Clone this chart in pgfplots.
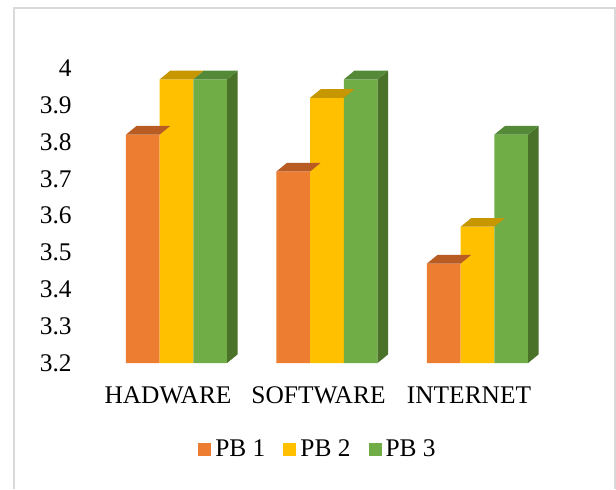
\documentclass[border=0pt,12pt]{standalone}
\usepackage{fontspec}
\setmainfont{Liberation Serif}
\usepackage{pgfplots}
\pgfplotsset{compat=1.18}
\definecolor{pbA}{HTML}{ED7D31}
\definecolor{pbB}{HTML}{FFC000}
\definecolor{pbC}{HTML}{70AD47}
\definecolor{pbAtop}{HTML}{B85C24}
\definecolor{pbBtop}{HTML}{C69700}
\definecolor{pbCtop}{HTML}{548A37}
\definecolor{pbCside}{HTML}{4A7229}
\definecolor{frame}{HTML}{D9D9D9}
% 3D top faces (offset per series hard-coded), depth dx=5.3pt, dy=4.35pt
\pgfdeclareplotmark{topA}{%
  \pgfsetfillcolor{pbAtop}%
  \pgfpathmoveto{\pgfqpoint{-21.025pt}{0pt}}%
  \pgfpathlineto{\pgfqpoint{-4.175pt}{0pt}}%
  \pgfpathlineto{\pgfqpoint{1.125pt}{4.35pt}}%
  \pgfpathlineto{\pgfqpoint{-15.725pt}{4.35pt}}%
  \pgfpathclose\pgfusepath{fill}}
\pgfdeclareplotmark{topB}{%
  \pgfsetfillcolor{pbBtop}%
  \pgfpathmoveto{\pgfqpoint{-4.175pt}{0pt}}%
  \pgfpathlineto{\pgfqpoint{12.675pt}{0pt}}%
  \pgfpathlineto{\pgfqpoint{17.975pt}{4.35pt}}%
  \pgfpathlineto{\pgfqpoint{1.125pt}{4.35pt}}%
  \pgfpathclose\pgfusepath{fill}}
\pgfdeclareplotmark{topC}{%
  \pgfmathsetmacro{\hh}{(\rawy-3.2)*184.1875}%
  \pgfsetfillcolor{pbCside}%
  \pgfpathmoveto{\pgfqpoint{29.525pt}{0pt}}%
  \pgfpathlineto{\pgfqpoint{34.825pt}{4.35pt}}%
  \pgfpathlineto{\pgfpoint{34.825pt}{4.35pt-\hh pt}}%
  \pgfpathlineto{\pgfpoint{29.525pt}{-\hh pt}}%
  \pgfpathclose\pgfusepath{fill}%
  \pgfsetfillcolor{pbCtop}%
  \pgfpathmoveto{\pgfqpoint{12.675pt}{0pt}}%
  \pgfpathlineto{\pgfqpoint{29.525pt}{0pt}}%
  \pgfpathlineto{\pgfqpoint{34.825pt}{4.35pt}}%
  \pgfpathlineto{\pgfqpoint{17.975pt}{4.35pt}}%
  \pgfpathclose\pgfusepath{fill}}
\pgfplotstableread{
x  v
0  3.82
1  3.72
2  3.47
}\pbone
\pgfplotstableread{
x  v
0  3.97
1  3.92
2  3.57
}\pbtwo
\pgfplotstableread{
x  v
0  3.97
1  3.97
2  3.82
}\pbthree
\begin{document}
\fontsize{12.7}{15}\selectfont
\begin{tikzpicture}
\useasboundingbox (0,0) rectangle (308pt,244.5pt);
\draw[frame, line width=1pt] (6.75pt,0pt) -- (6.75pt,240.5pt) -- (307.35pt,240.5pt) -- (307.35pt,0pt);
\begin{axis}[
  at={(46.375pt,63pt)}, anchor=south west,
  scale only axis, width=225.75pt, height=147.35pt,
  xmin=-0.5, xmax=2.5, ymin=3.2, ymax=4,
  xtick={0,1,2}, xticklabels={HADWARE,SOFTWARE,INTERNET},
  ytick={3.2,3.3,3.4,3.5,3.6,3.7,3.8,3.9,4},
  yticklabels={3.2,3.3,3.4,3.5,3.6,3.7,3.8,3.9,4},
  axis line style={draw=none}, tick style={draw=none},
  tick label style={font=\fontsize{12.7}{15}\selectfont},
  xticklabel style={anchor=center, yshift=-16pt},
  yticklabel style={anchor=east, inner sep=0pt, xshift=-10.4pt},
  legend columns=3,
  legend style={draw=none, fill=none, at={(0.501,-0.295)}, anchor=center,
    font=\fontsize{12.7}{15}\selectfont,
    /tikz/every even column/.append style={column sep=7pt}},
]
\addplot[ybar, bar width=16.85pt, bar shift=-12.6pt, draw=none, fill=pbA,
  legend image code/.code={\fill[pbA] (0pt,-3.25pt) rectangle (6.5pt,3.25pt);}]
  table[x=x,y=v]{\pbone};
\addlegendentry{PB 1}
\addplot[only marks, mark=topA, forget plot] table[x=x,y=v]{\pbone};
\addplot[ybar, bar width=16.85pt, bar shift=4.25pt, draw=none, fill=pbB,
  legend image code/.code={\fill[pbB] (0pt,-3.25pt) rectangle (6.5pt,3.25pt);}]
  table[x=x,y=v]{\pbtwo};
\addlegendentry{PB 2}
\addplot[only marks, mark=topB, forget plot] table[x=x,y=v]{\pbtwo};
\addplot[ybar, bar width=16.85pt, bar shift=21.1pt, draw=none, fill=pbC,
  legend image code/.code={\fill[pbC] (0pt,-3.25pt) rectangle (6.5pt,3.25pt);}]
  table[x=x,y=v]{\pbthree};
\addlegendentry{PB 3}
\addplot[only marks, mark=topC, forget plot,
  visualization depends on=rawy \as \rawy] table[x=x,y=v]{\pbthree};
\end{axis}
\end{tikzpicture}
\end{document}
